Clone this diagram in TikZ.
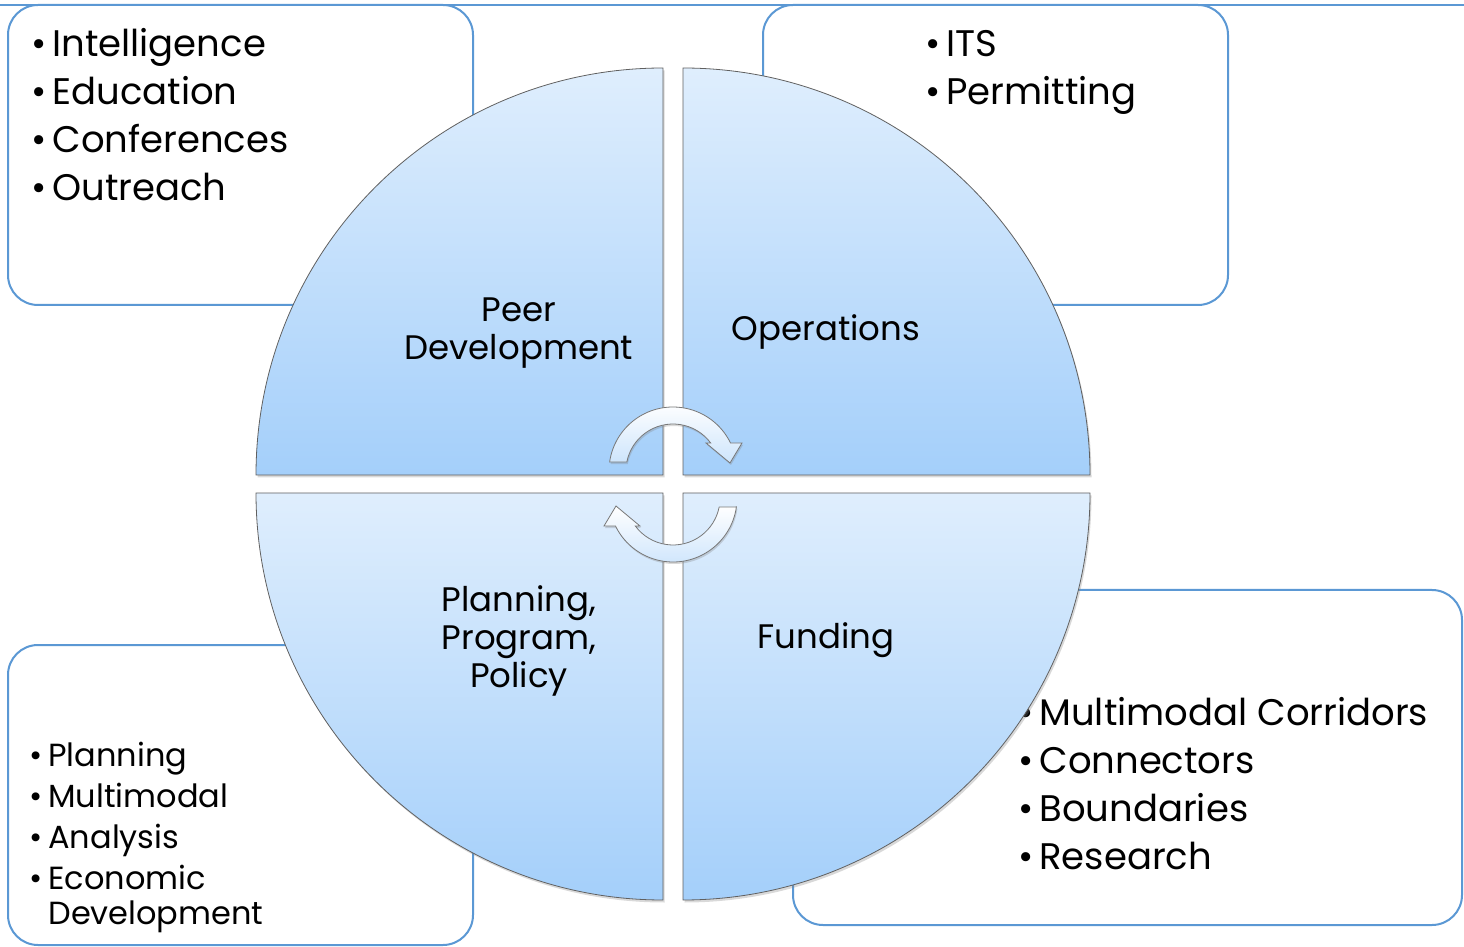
\documentclass[tikz,border=0pt]{standalone}
\usepackage{fontspec}
\setmainfont{Poppins}
\usetikzlibrary{positioning,shadows}
\definecolor{boxblue}{RGB}{91,152,212}
\definecolor{quadlight}{RGB}{223,238,253}
\definecolor{quaddark}{RGB}{164,207,250}
\definecolor{quadedge}{RGB}{96,96,96}
\definecolor{arrowedge}{RGB}{120,120,120}
\newcommand{\itembul}{\textbullet\hspace{6pt}}
\tikzset{
infobox/.style={draw=boxblue,line width=2pt,fill=white,rounded corners=30pt},
quadrant/.style={draw=quadedge,line width=0.8pt,top color=quadlight,bottom color=quaddark,
    drop shadow={shadow xshift=1.5pt,shadow yshift=-2.5pt,opacity=0.3}},
listtext/.style={align=left,inner sep=0pt,font=\fontsize{37}{48}\selectfont},
smalllist/.style={listtext,font=\fontsize{32}{41}\selectfont},
quadlabel/.style={align=center,inner sep=0pt,font=\fontsize{34}{38}\selectfont},
arrowshape/.style={draw=arrowedge,line width=0.8pt,top color=white,bottom color=quadlight!70!quaddark,
    drop shadow={shadow xshift=1pt,shadow yshift=-2pt,opacity=0.3}},
cyclearrow/.pic={
    \path[arrowshape] (-63.4,22.4) arc[start angle=172,end angle=26,radius=64]
        -- (69,41.5) -- (57,21.5) -- (33,41.5) -- (37.7,41.5)
        arc[start angle=36.6,end angle=169,radius=47] -- cycle;
},
}

\begin{document}
\begin{tikzpicture}[x=1pt,y=1pt]
    \useasboundingbox (0,0) rectangle (1464,946);

    % boxes behind the circle
    \draw[boxblue,line width=2pt] (0,941) -- (1464,941);
    \draw[infobox] (8,641) rectangle (473,941);
    \draw[infobox] (763,641) rectangle (1228,941);
    \draw[infobox] (8,1) rectangle (473,301);
    \draw[infobox] (793,21) rectangle (1462,356);

    % base anchor sits on the last line
    \node[listtext,anchor=base west] (tllist) at (31,745)
        {\itembul Intelligence\\ \itembul Education\\ \itembul Conferences\\ \itembul Outreach};
    \node[listtext,anchor=base west] (trlist) at (925,841)
        {\itembul ITS\\ \itembul Permitting};
    \node[smalllist,anchor=base west] (bllist) at (29,22)
        {\itembul Planning\\ \itembul Multimodal\\ \itembul Analysis\\ \itembul Economic\\[-6pt]
         \phantom{\textbullet}\hspace{6pt}Development};
    \node[listtext,anchor=base west] (brlist) at (1018,77)
        {\itembul Multimodal Corridors\\ \itembul Connectors\\ \itembul Boundaries\\ \itembul Research};

    % the four quarters
    \path[quadrant] (663,471) -- ++(180:407) arc[start angle=180,end angle=90,radius=407] -- cycle;
    \path[quadrant] (683,471) -- ++(0:407) arc[start angle=0,end angle=90,radius=407] -- cycle;
    \path[quadrant] (663,453) -- ++(180:407) arc[start angle=180,end angle=270,radius=407] -- cycle;
    \path[quadrant] (683,453) -- ++(0:407) arc[start angle=0,end angle=-90,radius=407] -- cycle;

    \node[quadlabel,anchor=base] (peer) at (519,586) {Peer\\Development};
    \node[quadlabel,anchor=base] (ops) at (826,605) {Operations};
    \node[quadlabel,anchor=base] (plan) at (519,259) {Planning,\\Program,\\Policy};
    \node[quadlabel,anchor=base] (fund) at (826,298) {Funding};

    % cycle arrows
    \pic (cyctop) at (673,461.5) {cyclearrow};
    \pic[rotate=180] (cycbot) at (673,461.5) {cyclearrow};
\end{tikzpicture}
\end{document}
